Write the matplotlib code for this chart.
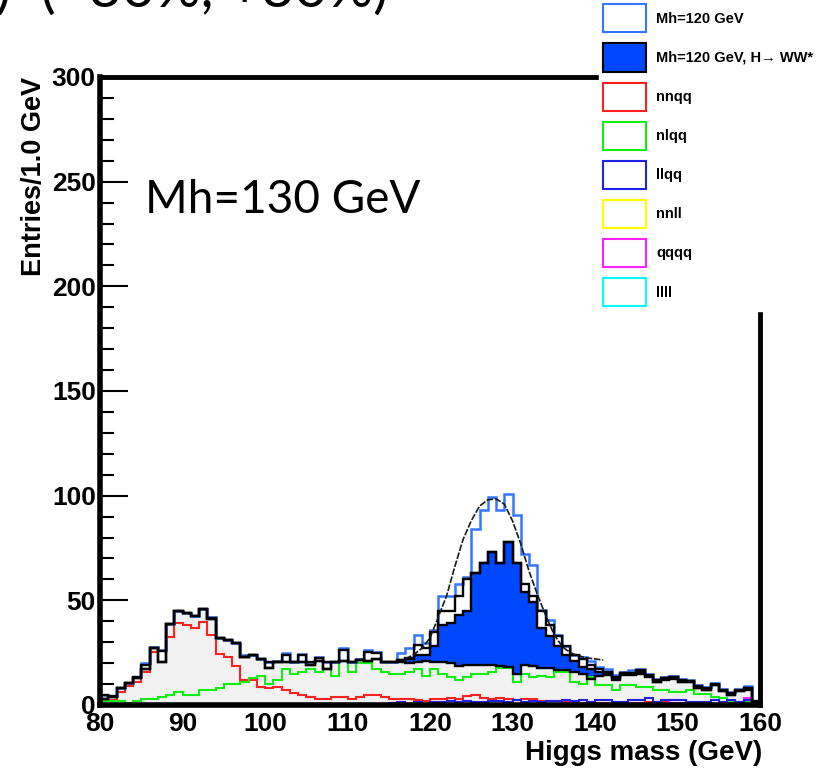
import numpy as np
import matplotlib
matplotlib.use("Agg")
import matplotlib.pyplot as plt
from matplotlib.patches import Patch
from matplotlib.ticker import MultipleLocator

# 1 GeV bins from 80 to 160 GeV
mass_edges = np.arange(80, 161, 1)

# total background (grey filled, black outline)
bkg_total = [
    3, 4, 8, 10.5, 13, 17, 27, 20.5, 38.5, 45,
    44, 42.5, 46, 41, 32, 31, 29.5, 23, 24, 22,
    17.5, 20.5, 20.5, 20.5, 20.5, 19, 21, 17, 20.5, 21,
    20.5, 21.5, 21, 22, 20.5, 20.5, 20.5, 20, 20.5, 21,
    20.5, 20.5, 20, 18.5, 19, 19, 19, 19, 18.5, 18,
    15, 19, 18.5, 17.5, 17.5, 16.5, 16.5, 16, 15, 12.5,
    14, 14.5, 12, 14.5, 14.5, 15, 13.5, 11, 12, 12.5,
    11, 11, 8, 7, 9.5, 6.5, 5, 6.5, 7, 1.5,
]

# H -> WW* signal, stacked on the background (blue fill)
ww_signal = [
    0, 0, 0, 0, 0, 0, 0, 0, 0, 0,
    0, 0, 0, 0, 0, 0, 0, 0, 0, 0,
    0, 0, 0, 0, 0, 0, 0, 0, 0, 0,
    0, 0, 0, 0, 0, 0, 1, 2, 3.5, 3,
    7.5, 17.5, 19, 24.5, 26, 44, 49, 54, 49.5, 60,
    53, 35, 30.5, 19.5, 15.5, 11.5, 7.5, 5, 3, 4.5,
    2, 1.5, 1.5, 1, 1, 1.5, 0.5, 0, 1, 1,
    0, 0, 0, 0, 0, 0, 0, 0, 1, 0,
]

# black outlined histogram
black_hist = [
    5, 4.2, 8.2, 10.6, 13.2, 19, 27, 26, 38.5, 45,
    44, 42.5, 46, 41.5, 32, 31, 29.5, 23, 24, 22,
    20.7, 20.7, 24, 20.7, 24, 20.7, 22.3, 20.7, 20.7, 26.3,
    20.7, 21.5, 25.5, 24.7, 20.7, 20.7, 21.5, 22.5, 28.6, 27,
    35, 45, 45, 52, 60, 63, 68, 73, 68, 78,
    68, 58, 52, 45, 38, 33, 28, 24, 22, 19,
    17, 15.5, 13, 15.5, 15.5, 16, 14.5, 12, 13, 13.5,
    12, 11.5, 9, 8, 10, 7, 5.5, 7, 8, 2,
]

# Mh=120 GeV, all channels (blue outline)
mh120_total = [
    5, 4.2, 8.2, 10.6, 13.2, 20, 27.5, 26.5, 38.5, 45,
    44, 42.5, 46, 42, 32, 31, 29.5, 24, 24, 22,
    20.7, 21, 25, 20.7, 24.5, 20.7, 23, 20.7, 20.7, 27,
    20.7, 22, 26.5, 25.5, 20.7, 20.7, 24.7, 27, 33.4, 29.5,
    36, 52, 52, 58, 61, 84, 93, 99.5, 93, 101,
    91, 72, 67, 45.5, 40.5, 33.5, 28, 24, 23, 21,
    18, 17, 14.5, 16, 16.5, 17, 15, 12.5, 13.5, 14,
    12.5, 12, 9.5, 8.5, 10.5, 7.5, 6, 7.5, 9, 2,
]

nnqq = [
    3, 2.3, 6.3, 9, 11, 16, 25.5, 20.5, 32.5, 39,
    38, 37, 39.5, 33.5, 24.5, 23, 18.5, 12, 12, 8.5,
    8, 8.7, 7, 5.5, 5, 4, 2.7, 2.7, 3.6, 3.6,
    2.7, 3.6, 5, 5, 3.6, 2.7, 2.7, 2.7, 2.4, 2,
    3, 3, 3.5, 3, 4.5, 5, 3.5, 3, 3.5, 3,
    2.5, 3, 3, 2, 2, 2, 1.5, 1.5, 1, 1,
    1, 1, 1, 0.8, 0.8, 0.8, 1.5, 0.8, 1.5, 0.8,
    0.8, 0.8, 0.8, 0.5, 0.5, 0.5, 0.5, 0.5, 0.5, 0.5,
]

nlqq = [
    2, 2, 2, 1, 2, 3, 3, 4, 5, 6,
    5, 5, 7, 7, 8, 10, 10, 11, 13, 14,
    10, 12, 17, 15, 16, 17, 16, 17, 14, 21,
    16, 20, 20, 17, 16, 15, 15, 16, 17, 14,
    17, 15, 13.5, 12, 13.5, 15, 15, 16, 17.5, 17.5,
    11, 15, 13.5, 14, 13.5, 16, 16, 11, 10, 13.5,
    9.5, 9.5, 7, 9.5, 9.5, 8.7, 8.7, 7, 7, 6.3,
    6.3, 7, 5.2, 5.2, 4, 3.2, 1.6, 1.6, 1.6, 1.6,
]

llqq = [
    0.5, 0.5, 0.5, 0.5, 0.5, 0.5, 0.5, 0.5, 0.5, 0.5,
    0.5, 0.5, 0.5, 0.5, 0.5, 0.5, 0.5, 0.5, 0.5, 0.5,
    0.5, 0.5, 0.5, 0.5, 0.5, 0.5, 0.5, 0.5, 0.5, 0.5,
    0.5, 0.5, 0.5, 0.5, 0.5, 1, 1.6, 0.5, 1.6, 0.5,
    1.5, 1.5, 2, 1.5, 2, 1.5, 1.5, 2, 2, 1.5,
    2.4, 1.5, 2, 1.5, 2, 2, 2.4, 2, 2.4, 1.5,
    2.4, 2.4, 1.6, 1.6, 2.4, 2.4, 3.2, 1.6, 2.4, 2.4,
    2.4, 1.6, 1.6, 1.6, 2.4, 1.6, 2.4, 1.6, 2.4, 1.6,
]

nnll = [
    0.3, 0.3, 0.3, 0.3, 0.3, 0.3, 0.3, 0.3, 0.3, 0.3,
    0.3, 0.3, 0.3, 0.3, 0.3, 0.3, 0.3, 0.3, 0.3, 0.3,
    0.3, 0.3, 0.3, 0.3, 0.3, 0.3, 0.3, 0.3, 0.3, 0.3,
    0.3, 0.3, 0.3, 0.3, 0.3, 0.3, 0.3, 0.3, 0.3, 0.3,
    0.3, 0.3, 0.3, 0.3, 0.3, 0.3, 0.3, 0.3, 0.3, 0.3,
    0.3, 0.3, 0.3, 0.3, 0.3, 0.3, 0.3, 0.3, 0.3, 0.3,
    0.3, 0.3, 0.3, 0.3, 0.3, 0.3, 0.3, 0.3, 0.3, 0.3,
    0.3, 0.3, 0.3, 0.3, 0.3, 0.3, 0.3, 0.3, 0.3, 0.3,
]

qqqq = [
    0.3, 0.3, 0.3, 0.3, 0.3, 0.3, 0.3, 0.3, 0.3, 0.3,
    0.3, 0.3, 0.3, 0.3, 0.3, 0.3, 0.3, 0.3, 0.3, 0.3,
    0.3, 0.3, 0.3, 0.3, 0.3, 0.3, 0.3, 0.3, 0.3, 0.3,
    0.3, 0.3, 0.3, 0.3, 0.3, 0.3, 0.3, 0.3, 0.3, 0.3,
    0.5, 0.5, 0.5, 0.5, 0.5, 0.5, 0.5, 0.5, 0.5, 0.5,
    0.5, 0.5, 0.5, 0.5, 0.5, 0.5, 0.5, 0.5, 0.5, 0.5,
    0.5, 0.5, 0.5, 0.5, 0.5, 0.5, 0.5, 0.5, 0.5, 2.4,
    2.4, 0.5, 0.5, 0.5, 2.4, 0.5, 0.5, 0.5, 3.2, 1.6,
]

llll = [
    0.5, 0.5, 0.5, 0.5, 0.5, 0.5, 0.5, 0.5, 0.5, 0.5,
    0.5, 0.5, 0.5, 0.5, 0.5, 0.5, 0.5, 0.5, 0.5, 0.5,
    0.5, 0.5, 0.5, 0.5, 0.5, 0.5, 0.5, 0.5, 0.5, 0.5,
    0.5, 0.5, 0.5, 0.5, 0.5, 0.5, 0.5, 0.5, 0.5, 0.5,
    0.5, 0.5, 0.5, 0.5, 0.5, 0.5, 0.5, 0.5, 0.5, 0.5,
    0.5, 0.5, 0.5, 0.5, 0.5, 0.5, 0.5, 0.5, 0.5, 0.5,
    0.5, 0.5, 0.5, 0.5, 0.5, 0.5, 0.5, 0.5, 0.5, 0.5,
    0.5, 0.5, 0.5, 0.5, 0.5, 0.5, 0.5, 0.5, 0.5, 0.5,
]

# fitted curve
fit_mass = [117, 118, 119, 120, 121, 122, 123, 124, 125, 126, 127, 128, 129,
            130, 131, 132, 133, 134, 135, 136, 137, 138, 139, 140, 141]
fit_vals = [22, 24, 27, 32, 42, 52, 66, 79, 88, 95, 98, 98.5, 96,
            88, 77, 64, 53, 43, 34, 28, 25, 23.5, 22.5, 22, 21.5]

legend_labels = ["Mh=120 GeV", "Mh=120 GeV, H\u2192 WW*", "nnqq", "nlqq",
                 "llqq", "nnll", "qqqq", "llll"]

sig_blue = "#3377ff"
ww_blue = "#0048ff"

plt.rcParams["font.family"] = ["Liberation Sans", "DejaVu Sans"]
plt.rcParams["font.weight"] = "bold"

fig = plt.figure(figsize=(8.31, 7.73), dpi=100)
ax = fig.add_axes([100 / 831, 68 / 773, 660 / 831, 628 / 773])

bkg = np.array(bkg_total)
ww_top = bkg + np.array(ww_signal)

ax.stairs(bkg_total, mass_edges, fill=True, color="#f2f2f2", zorder=1)
ax.stairs(ww_top, mass_edges, baseline=bkg, fill=True, color=ww_blue, zorder=2)

ax.stairs(nnqq, mass_edges, color="#ff2020", lw=1.5, zorder=3)
ax.stairs(nlqq, mass_edges, color="#10f010", lw=1.5, zorder=3)
ax.stairs(nnll, mass_edges, color="#ffff00", lw=1.5, zorder=3)
ax.stairs(qqqq, mass_edges, color="#ff20ff", lw=1.5, zorder=3.1)
ax.stairs(llqq, mass_edges, color="#2020e0", lw=1.5, zorder=3.2)
ax.stairs(llll, mass_edges, color="#00ffff", lw=1.5, zorder=3.3)

ax.stairs(mh120_total, mass_edges, color=sig_blue, lw=1.8, zorder=4)
ax.stairs(black_hist, mass_edges, color="black", lw=1.7, zorder=5)
ax.stairs(bkg_total, mass_edges, color="black", lw=1.7, zorder=5)
ax.stairs(ww_top, mass_edges, color="black", lw=1.7, zorder=5)

ax.plot(fit_mass, fit_vals, color="#1a1a1a", lw=1.2, ls=(0, (4, 1)), zorder=6)

ax.set_xlim(80, 160)
ax.set_ylim(0, 300)
ax.yaxis.set_major_locator(MultipleLocator(50))
ax.yaxis.set_minor_locator(MultipleLocator(10))
ax.xaxis.set_major_locator(MultipleLocator(10))
ax.tick_params(axis="y", which="major", direction="in", length=20, width=1.5,
               labelsize=19, pad=3)
ax.tick_params(axis="y", which="minor", direction="in", length=10, width=1.5)
ax.tick_params(axis="x", which="both", length=0, labelsize=19, pad=5)

for side, w in [("left", 4), ("bottom", 4), ("top", 3.5), ("right", 3.5)]:
    ax.spines[side].set_linewidth(w)
    ax.spines[side].set_zorder(7)

ax.set_xlabel("Higgs mass (GeV)", fontsize=20, fontweight="bold", loc="right")
ax.xaxis.set_label_coords(1.003, -0.055)
ax.xaxis.label.set_va("top")
ax.set_ylabel("Entries/1.0 GeV", fontsize=19.5, fontweight="bold", loc="top")
ax.yaxis.set_label_coords(-0.081, 1.0)

handles = [
    Patch(facecolor="white", edgecolor=sig_blue, lw=1.5),
    Patch(facecolor=ww_blue, edgecolor="black", lw=1.5),
    Patch(facecolor="white", edgecolor="#ff2020", lw=1.5),
    Patch(facecolor="white", edgecolor="#10f010", lw=1.5),
    Patch(facecolor="white", edgecolor="#2020e0", lw=1.5),
    Patch(facecolor="white", edgecolor="#ffff00", lw=1.5),
    Patch(facecolor="white", edgecolor="#ff20ff", lw=1.5),
    Patch(facecolor="white", edgecolor="#00ffff", lw=1.5),
]
fig.legend(handles, legend_labels, loc="upper left",
           bbox_to_anchor=(599 / 831, 1.0), frameon=True,
           facecolor="white", edgecolor="white", framealpha=1, fancybox=False,
           prop=dict(size=10.5, weight="bold"), handlelength=2.95,
           handleheight=2.58, labelspacing=0.76, borderaxespad=0,
           borderpad=0.3, handletextpad=0.69)

fig.text(145 / 831, 1 - 213 / 773, "Mh=130 GeV", fontsize=33, family="Lato",
         weight="normal", va="baseline")
fig.text(-4 / 831, 1 - 7 / 773, ")  (\u221230%, +30%)", fontsize=41,
         family="Lato", weight="normal", va="baseline")

fig.savefig("out.png", dpi=100)
